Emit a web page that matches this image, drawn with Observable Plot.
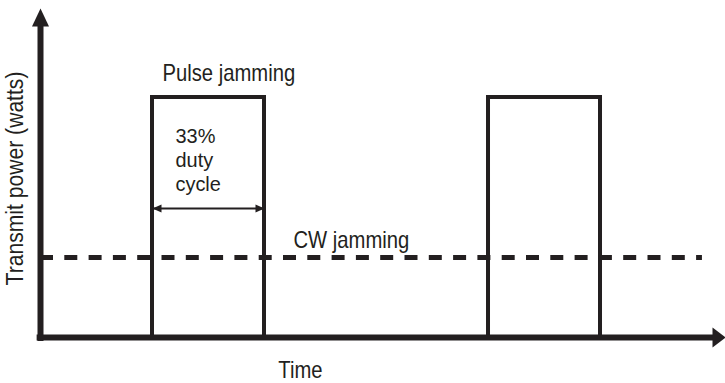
<!DOCTYPE html>
<html>
<head>
<meta charset="utf-8">
<script src="https://cdn.jsdelivr.net/npm/d3@7"></script>
<script src="https://cdn.jsdelivr.net/npm/@observablehq/plot@0.6"></script>
<style>
  html, body { margin: 0; padding: 0; background: #ffffff; }
  #chart svg { display: block; }
</style>
</head>
<body>
<div id="chart"></div>
<script>
// ---- data (time units on x, relative power on y) ----
const pulseStarts = [1, 4];
const pulseEnds = [2, 5];
const pulsePower = 3;
const cwPower = 1;
const cwEnd = 5.91;
const timeMax = 6.116;     // end of the time axis (arrow tip)
const powerMax = 4.1125;   // end of the power axis (arrow tip)
const dutyArrowLevel = 1.6125;

const labelPulse = "Pulse jamming";
const labelDuty = "33%\nduty\ncycle";
const labelCW = "CW jamming";
const labelX = "Time";
const labelY = "Transmit power (watts)";

// ---- derived tables ----
const pulses = pulseStarts.map((s, i) => ({start: s, end: pulseEnds[i], power: pulsePower}));
const ink = "#231f20";
const font = "'Liberation Sans', Arial, sans-serif";

// filled arrowhead symbol, pointing up, tip at the anchor point
function arrowHead(len, half) {
  return {draw(c) { c.moveTo(0, 0); c.lineTo(-half, len); c.lineTo(half, len); c.closePath(); }};
}

const chart = Plot.plot({
  width: 725,
  height: 383,
  margin: 0,
  style: {background: "#ffffff", fontFamily: font, overflow: "visible"},
  x: {domain: [0, timeMax], range: [40, 725], axis: null},
  y: {domain: [0, powerMax], range: [337, 8], axis: null},
  marks: [
    // pulses
    Plot.rect(pulses, {x1: "start", x2: "end", y1: 0, y2: "power", fill: "none", stroke: ink, strokeWidth: 4}),
    // CW level
    Plot.ruleY([cwPower], {x1: 0, x2: cwEnd, stroke: ink, strokeWidth: 5, strokeDasharray: "13,11.3"}),
    // duty cycle double arrow
    Plot.ruleY([dutyArrowLevel], {x1: pulseStarts[0], x2: pulseEnds[0], stroke: ink, strokeWidth: 2}),
    Plot.dot([pulseStarts[0]], {x: d => d, y: dutyArrowLevel, symbol: arrowHead(9, 4), rotate: -90, fill: ink, stroke: null}),
    Plot.dot([pulseEnds[0]], {x: d => d, y: dutyArrowLevel, symbol: arrowHead(9, 4), rotate: 90, fill: ink, stroke: null}),
    // axes
    Plot.ruleX([0], {y1: -0.05, y2: powerMax - 0.2, stroke: ink, strokeWidth: 6}),
    Plot.ruleY([0], {x1: -0.03, x2: timeMax - 0.09, stroke: ink, strokeWidth: 6}),
    Plot.dot([powerMax], {x: 0, y: d => d, symbol: arrowHead(18, 8.5), fill: ink, stroke: null}),
    Plot.dot([timeMax], {x: d => d, y: 0, symbol: arrowHead(13, 10), rotate: 90, fill: ink, stroke: null}),
    // labels
    Plot.text([labelPulse], {x: 1.089, y: 3.2125, text: d => d, textAnchor: "start", lineAnchor: "bottom", fontSize: 23, fill: ink}),
    Plot.text([labelDuty], {x: 1.205, y: 2.636, text: d => d, textAnchor: "start", lineAnchor: "top", lineHeight: 1.13, fontSize: 21, fill: ink}),
    Plot.text([labelCW], {x: 2.259, y: 1.125, text: d => d, textAnchor: "start", lineAnchor: "bottom", fontSize: 23, fill: ink}),
    Plot.text([labelX], {x: 2.321, y: -0.51, text: d => d, textAnchor: "middle", lineAnchor: "bottom", fontSize: 23, fill: ink}),
    Plot.text([labelY], {x: -0.223, y: 1.9875, text: d => d, textAnchor: "middle", lineAnchor: "middle", rotate: -90, fontSize: 24, fill: ink})
  ]
});

// squeeze glyphs horizontally around each text's own anchor (mimics a condensed face)
d3.select(chart).selectAll("text").each(function() {
  const k = this.textContent.includes("33%") ? 0.95 : 0.88;
  const t = this.getAttribute("transform");
  if (t) {
    this.setAttribute("transform", t + ` scale(${k},1)`);
  } else {
    const x = +this.getAttribute("x") || 0, y = +this.getAttribute("y") || 0;
    this.setAttribute("transform", `translate(${x},${y}) scale(${k},1) translate(${-x},${-y})`);
  }
});

document.getElementById("chart").append(chart);
</script>
</body>
</html>
